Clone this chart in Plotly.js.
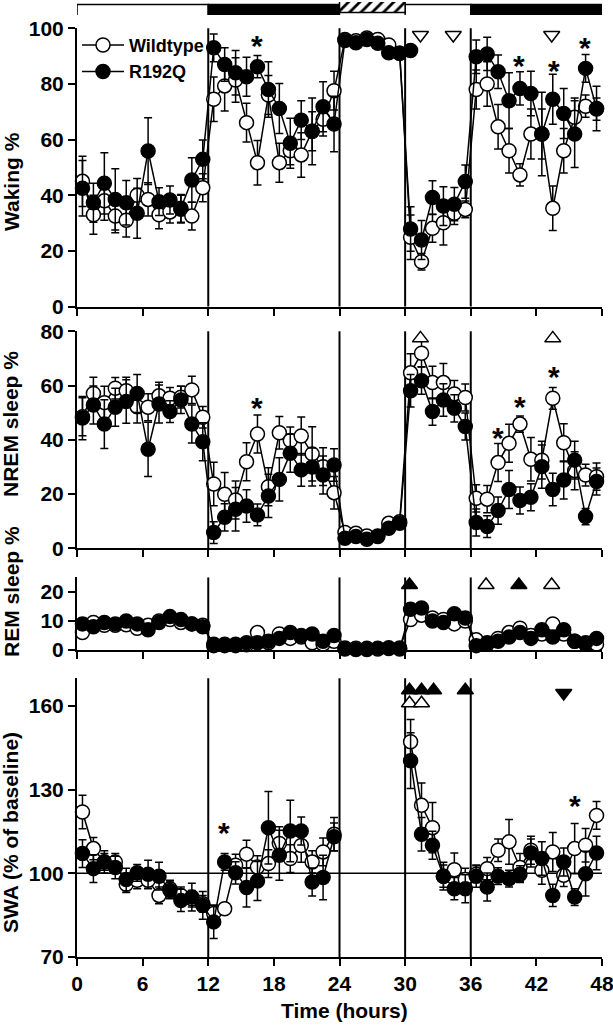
<!DOCTYPE html>
<html>
<head>
<meta charset="utf-8">
<script src="https://cdn.plot.ly/plotly-3.0.1.min.js"></script>
<style>
  body { margin: 0; background: #fff; }
  #chart { width: 613px; height: 1025px; }
</style>
</head>
<body>
<div id="chart"></div>
<script>
// hour bins (mid-points)
const hours = [0.5, 1.5, 2.5, 3.5, 4.5, 5.5, 6.5, 7.5, 8.5, 9.5, 10.5, 11.5,
  12.5, 13.5, 14.5, 15.5, 16.5, 17.5, 18.5, 19.5, 20.5, 21.5, 22.5, 23.5,
  24.5, 25.5, 26.5, 27.5, 28.5, 29.5, 30.5, 31.5, 32.5, 33.5, 34.5, 35.5,
  36.5, 37.5, 38.5, 39.5, 40.5, 41.5, 42.5, 43.5, 44.5, 45.5, 46.5, 47.5];
const hourTicks = [0, 6, 12, 18, 24, 30, 36, 42, 48];
const phaseBounds = [12, 24, 30, 36];

// light/dark bar, plus the hatched sleep-deprivation block
const lightStart = [0, 12, 30, 36];
const lightLength = [12, 12, 6, 12];
const lightFill = ['white', 'black', 'white', 'black'];
const sdStart = [24];
const sdLength = [6];

// Waking %
const wakeWT = [45, 33, 38, 32.5, 31, 40, 38.5, 33, 34, 35, 32.5, 42.7,
  74.5, 79.3, 81.4, 66.1, 51.7, 76, 51.7, 56, 54.5, 63, 67.3, 77.6,
  96, 95.5, 96.5, 96, 94, 91, 24.9, 16.1, 28.1, 30.1, 33.5, 34.9,
  78, 80, 64.6, 56, 47.3, 62, 62, 35.3, 56, 68, 72, 71];
const wakeWTErr = [9, 7, 7, 6, 6, 6, 6, 5, 4, 5, 5, 5,
  8, 9, 8, 7, 8, 7, 7, 5, 8, 7, 6, 7,
  1, 1, 1, 1, 1, 1, 8, 3, 5, 8, 4, 3,
  7, 8, 8, 8, 4, 9, 9, 8, 8, 7, 4, 4];
const wakeMut = [42.5, 37.3, 44.3, 38.5, 37.3, 33.5, 55.9, 37.7, 38.3, 35.3, 45.5, 52.9,
  93, 87, 84, 82.6, 86.2, 78, 71.2, 58.7, 67, 63, 71.8, 65.6,
  95.6, 94.8, 96, 94.6, 91.2, 91, 27.9, 23.9, 39.2, 36.1, 36.8, 44.9,
  89.8, 90.8, 84.4, 74, 78.4, 76.6, 62, 74.5, 69.4, 62, 85.6, 71.2];
const wakeMutErr = [10, 7, 11, 11, 8, 9, 12, 5, 5, 5, 8, 7,
  5, 6, 8, 7, 4, 10, 9, 9, 7, 12, 9, 10,
  1, 1, 1, 1, 1, 1, 8, 7, 6, 7, 6, 6,
  6, 6, 6, 10, 6, 8, 15, 9, 9, 12, 5, 8];
const wakeSdEndX = [30.5];
const wakeSdEndMut = [92];

// NREM sleep %
const nremWT = [48.5, 57.1, 53.7, 59, 58.1, 52.2, 52, 56.2, 55.3, 55.7, 58.4, 48.3,
  23.7, 19.9, 17.8, 31.9, 42.1, 22.7, 42.6, 39.7, 41.4, 34.8, 30.1, 20.5,
  5.8, 5.5, 4.5, 4.5, 9.2, 9.8, 64.7, 71.9, 61.1, 61.1, 56.9, 55.6,
  18.4, 18.1, 31.6, 38.7, 45.8, 32.8, 32.5, 55.3, 38.9, 28.6, 27, 26.4];
const nremWTErr = [7, 6, 6, 4, 5, 6, 5, 5, 4, 4, 5, 4,
  8, 8, 7, 7, 7, 7, 6, 5, 7, 10, 7, 6,
  1, 1, 1, 1, 1, 1, 7, 5, 6, 7, 5, 5,
  5, 5, 7, 7, 3, 8, 7, 4, 7, 7, 4, 5];
const nremMut = [48, 52.8, 45.8, 52, 54.1, 57.1, 36.5, 53.2, 50.4, 54.7, 45.8, 39.3,
  5.8, 11.4, 14.4, 15.6, 12.3, 19.3, 25.4, 35, 28.9, 30, 27, 30.7,
  3.7, 4.3, 3.3, 4.3, 7.4, 9.2, 58.1, 61.8, 50.4, 54.7, 51.6, 44.9,
  9.5, 8, 13.9, 21.7, 17.6, 18.8, 30.1, 21.7, 25.2, 32.5, 11.7, 24.6];
const nremMutErr = [8, 7, 9, 7, 8, 7, 10, 7, 4, 5, 7, 7,
  4, 5, 8, 6, 4, 8, 8, 7, 6, 7, 7, 6,
  1, 1, 1, 1, 1, 1, 6, 5, 5, 6, 5, 5,
  5, 4, 5, 7, 5, 5, 8, 6, 7, 7, 3, 5];

// REM sleep %
const remWT = [6, 9.5, 8.5, 8.5, 8.7, 7.5, 8.5, 10, 10.5, 9.5, 9, 8.5,
  1.5, 1.5, 1.5, 1.8, 6, 2.5, 5.5, 4, 4.5, 2.5, 2, 3,
  0.7, 0.6, 0.6, 0.6, 0.5, 0.7, 10.5, 12, 11, 10.5, 9, 10,
  3.5, 2, 4, 6, 7.5, 5, 5.5, 9, 5.5, 3, 2, 2];
const remWTErr = [1.5, 1.5, 1.5, 1.5, 1.5, 1.5, 1.5, 1.5, 1.5, 1.5, 1.5, 1.5,
  0.8, 0.8, 0.8, 0.8, 1.5, 1, 1.5, 1, 1.5, 1, 1, 1,
  0.3, 0.3, 0.3, 0.3, 0.3, 0.3, 1.5, 1.5, 1.5, 1.5, 1.5, 1.5,
  1, 1, 1, 1.5, 1.5, 1.5, 1.5, 1.5, 1.5, 1, 1, 1];
const remMut = [9, 8, 9.5, 9, 10, 9, 7, 9.5, 11.5, 10.5, 9, 8,
  2, 2, 2, 2.5, 2.5, 3, 4, 6, 5, 5.5, 3, 5,
  0.3, 0.2, 0.2, 0.3, 0.8, 0.3, 14, 14.5, 10, 9.5, 12.5, 11,
  1.5, 2.5, 3, 4.5, 6, 4, 7, 4.5, 7, 3, 2.5, 4];
const remMutErr = [2, 1.5, 1.5, 1.5, 1.5, 1.5, 2, 1.5, 1.5, 1.5, 1.5, 1.5,
  1, 1, 1, 1, 1, 1, 1.5, 1.5, 1.5, 1.5, 1, 1.5,
  0.3, 0.3, 0.3, 0.3, 0.5, 0.3, 2, 1.5, 1.5, 1.5, 1.5, 1.5,
  1, 1, 1, 1.5, 1.5, 1.5, 2, 1.5, 2, 1, 1, 1.5];

// SWA (% of baseline), no values during sleep deprivation
const swaWT = [122, 108.9, 104.1, 104.1, 96.1, 97.5, 97.5, 92.1, 94.5, 92.1, 90.9, 89.1,
  85.6, 87.3, 102.9, 106.9, 102.3, 103.5, 110.7, 105.3, 110, 104.1, 107.7, 114,
  null, null, null, null, null, null, 147.2, 124.4, 116.4, 99, 101.3, 97.8,
  99.7, 101.7, 108.3, 111.3, 102.1, 108.3, 101.1, 107.7, 99.3, 108.9, 110.1, 120.8];
const swaWTErr = [6, 4, 3, 3, 3, 3, 3, 3, 3, 3, 3, 3,
  3, 2, 4, 5, 4, 5, 6, 5, 6, 4, 5, 6,
  null, null, null, null, null, null, 8, 8, 9, 4, 6, 4,
  3, 4, 4, 8, 5, 5, 5, 7, 4, 9, 6, 5];
const swaMut = [107.1, 101.7, 104.1, 102.1, 97.8, 100.2, 99.7, 99, 93.9, 90.3, 91.5, 88.5,
  82.6, 104.1, 100.2, 94.9, 97.3, 116.4, 106.5, 115.2, 115.2, 96.9, 98.5, 113.1,
  null, null, null, null, null, null, 140.4, 114, 110.1, 99, 94.5, 94.5,
  99, 95.1, 99, 98.1, 99.7, 107.3, 105.3, 92.1, 104.1, 91.5, 99.9, 107.3];
const swaMutErr = [5, 5, 4, 4, 4, 3, 5, 5, 3, 4, 5, 5,
  6, 3, 4, 7, 7, 13, 9, 11, 5, 5, 8, 5,
  null, null, null, null, null, null, 10, 6, 5, 5, 4, 5,
  4, 5, 3, 3, 3, 5, 6, 4, 5, 3, 8, 6];

// significance marks
const wakeStarX = [16.5, 40.4, 43.6, 46.4];
const wakeStarY = [96.4, 89.2, 87.4, 95.5];
const wakeOpenDownX = [31.4, 34.4, 43.4];
const wakeOpenDownY = [97.6, 97.6, 97.6];
const nremStarX = [16.5, 38.5, 40.5, 43.6];
const nremStarY = [54.4, 43.6, 54.7, 66];
const nremOpenUpX = [31.4, 43.5];
const nremOpenUpY = [77.4, 77.4];
const remFillUpX = [30.4, 40.4];
const remFillUpY = [22.4, 22.4];
const remOpenUpX = [37.4, 43.4];
const remOpenUpY = [22.4, 22.4];
const swaFillUpX = [30.4, 31.5, 32.6, 35.5];
const swaFillUpY = [165.7, 165.7, 165.7, 165.7];
const swaOpenUpX = [30.4, 31.5];
const swaOpenUpY = [161, 161];
const swaFillDownX = [44.5];
const swaFillDownY = [164.7];
const swaStarX = [13.4, 45.5];
const swaStarY = [117.3, 126.9];

const FONT = 'Arial, "Liberation Sans", sans-serif';

function series(y, err, xa, ya, open, name, showleg) {
  return {
    type: 'scatter', mode: 'lines+markers',
    x: hours, y: y, xaxis: xa, yaxis: ya,
    name: name, legendgroup: name, showlegend: showleg,
    connectgaps: false, cliponaxis: false, hoverinfo: 'skip',
    line: { color: 'black', width: 1.5 },
    marker: { symbol: 'circle', size: 14, color: open ? 'white' : 'black', line: { color: 'black', width: 1.5 } },
    error_y: { type: 'data', array: err, color: 'black', thickness: 1.5, width: 4 }
  };
}

function marks(x, y, xa, ya, symbol, fill) {
  return {
    type: 'scatter', mode: 'markers', x: x, y: y, xaxis: xa, yaxis: ya,
    showlegend: false, cliponaxis: false, hoverinfo: 'skip',
    marker: { symbol: symbol, size: 14, color: fill, line: { color: 'black', width: 1.5 } }
  };
}

// asterisks as annotations, nudged so the glyph sits on its point
function stars(x, y, xa, ya) {
  return x.map((xv, i) => ({
    text: '*', xref: xa, yref: ya, x: xv, y: y[i], yshift: -7,
    xanchor: 'center', yanchor: 'middle', showarrow: false,
    font: { family: FONT, size: 30, weight: 'bold', color: 'black' }
  }));
}

function lightBar(start, length, fill, hatch) {
  return {
    type: 'bar', orientation: 'h', x: length, base: start, y: start.map(() => 0),
    width: 1, xaxis: 'x5', yaxis: 'y5', showlegend: false, hoverinfo: 'skip',
    marker: {
      color: fill, line: { color: 'black', width: 1.5 },
      pattern: hatch ? { shape: '/', fgcolor: 'black', bgcolor: 'white', size: 8, solidity: 0.35 } : undefined
    }
  };
}

const data = [
  lightBar(lightStart, lightLength, lightFill, false),
  lightBar(sdStart, sdLength, 'white', true),
  series(wakeWT, wakeWTErr, 'x', 'y', true, 'Wildtype', true),
  series(wakeMut, wakeMutErr, 'x', 'y', false, 'R192Q', true),
  marks(wakeSdEndX, wakeSdEndMut, 'x', 'y', 'circle', 'black'),
  series(nremWT, nremWTErr, 'x2', 'y2', true, 'Wildtype', false),
  series(nremMut, nremMutErr, 'x2', 'y2', false, 'R192Q', false),
  series(remWT, remWTErr, 'x3', 'y3', true, 'Wildtype', false),
  series(remMut, remMutErr, 'x3', 'y3', false, 'R192Q', false),
  series(swaWT, swaWTErr, 'x4', 'y4', true, 'Wildtype', false),
  series(swaMut, swaMutErr, 'x4', 'y4', false, 'R192Q', false),
  marks(wakeOpenDownX, wakeOpenDownY, 'x', 'y', 'triangle-down', 'white'),
  marks(nremOpenUpX, nremOpenUpY, 'x2', 'y2', 'triangle-up', 'white'),
  marks(remFillUpX, remFillUpY, 'x3', 'y3', 'triangle-up', 'black'),
  marks(remOpenUpX, remOpenUpY, 'x3', 'y3', 'triangle-up', 'white'),
  marks(swaFillUpX, swaFillUpY, 'x4', 'y4', 'triangle-up', 'black'),
  marks(swaOpenUpX, swaOpenUpY, 'x4', 'y4', 'triangle-up', 'white'),
  marks(swaFillDownX, swaFillDownY, 'x4', 'y4', 'triangle-down', 'black')
];

const tickFont = { family: FONT, size: 21, weight: 'bold', color: 'black' };
const axisBase = {
  showline: true, linecolor: 'black', linewidth: 2, mirror: false,
  ticks: 'outside', ticklen: 7, tickwidth: 2, tickcolor: 'black',
  showgrid: false, zeroline: false, fixedrange: true, tickfont: tickFont,
  ticklabeloverflow: 'allow'
};
function xAxis(anchor, labels) {
  return Object.assign({}, axisBase, {
    anchor: anchor, domain: [0, 1], range: [0, 48],
    tickmode: 'array', tickvals: hourTicks, showticklabels: labels
  });
}
function yAxis(anchor, domain, range, ticks) {
  return Object.assign({}, axisBase, {
    anchor: anchor, domain: domain, range: range, tickmode: 'array', tickvals: ticks
  });
}

const shapes = [];
[['x', 'y'], ['x2', 'y2'], ['x3', 'y3'], ['x4', 'y4']].forEach(([xa, ya]) => {
  phaseBounds.forEach(b => {
    shapes.push({ type: 'line', xref: xa, yref: ya + ' domain', x0: b, x1: b, y0: 0, y1: 1,
      line: { color: 'black', width: 2 }, layer: 'below' });
  });
});
shapes.push({ type: 'line', xref: 'x4', yref: 'y4', x0: 0, x1: 48, y0: 100, y1: 100,
  line: { color: 'black', width: 1.5 }, layer: 'below' });

const titleFont = { family: FONT, size: 21, weight: 'bold', color: 'black' };
function yTitle(text, y) {
  return { text: text, xref: 'paper', yref: 'paper', x: -0.1257, y: y, textangle: -90,
    xanchor: 'center', yanchor: 'middle', showarrow: false, font: titleFont };
}

const layout = {
  width: 613, height: 1025,
  margin: { l: 77, r: 11, t: 0, b: 68 },
  paper_bgcolor: 'white', plot_bgcolor: 'white',
  showlegend: true,
  legend: {
    x: 0.0, y: 0.972, xanchor: 'left', yanchor: 'top', itemwidth: 42,
    bgcolor: 'rgba(0,0,0,0)', borderwidth: 0, tracegroupgap: 0,
    font: { family: FONT, size: 18, weight: 'bold', color: 'black' }
  },
  xaxis: xAxis('y', false),
  xaxis2: xAxis('y2', false),
  xaxis3: xAxis('y3', false),
  xaxis4: xAxis('y4', true),
  xaxis5: { anchor: 'y5', domain: [0, 1], range: [0, 48], visible: false, fixedrange: true },
  yaxis: yAxis('x', [0.6797, 0.9704], [0, 100], [0, 20, 40, 60, 80, 100]),
  yaxis2: yAxis('x2', [0.4271, 0.6538], [0, 80], [0, 20, 40, 60, 80]),
  yaxis3: yAxis('x3', [0.3208, 0.3966], [0, 25], [0, 10, 20]),
  yaxis4: yAxis('x4', [0, 0.2913], [70, 170], [70, 100, 130, 160]),
  yaxis5: { anchor: 'x5', domain: [0.9843, 0.9979], range: [-0.5, 0.5], visible: false, fixedrange: true },
  shapes: shapes,
  annotations: [
    yTitle('Waking %', 0.8098),
    yTitle('NREM sleep %', 0.557),
    yTitle('REM sleep %', 0.3814),
    yTitle('SWA (% of baseline)', 0.1296),
    { text: 'Time (hours)', xref: 'paper', yref: 'paper', x: 0.51, y: -0.0564,
      xanchor: 'center', yanchor: 'middle', showarrow: false, font: titleFont }
  ].concat(
    stars(wakeStarX, wakeStarY, 'x', 'y'),
    stars(nremStarX, nremStarY, 'x2', 'y2'),
    stars(swaStarX, swaStarY, 'x4', 'y4')
  )
};

Plotly.newPlot('chart', data, layout, { displayModeBar: false, staticPlot: true });
</script>
</body>
</html>
